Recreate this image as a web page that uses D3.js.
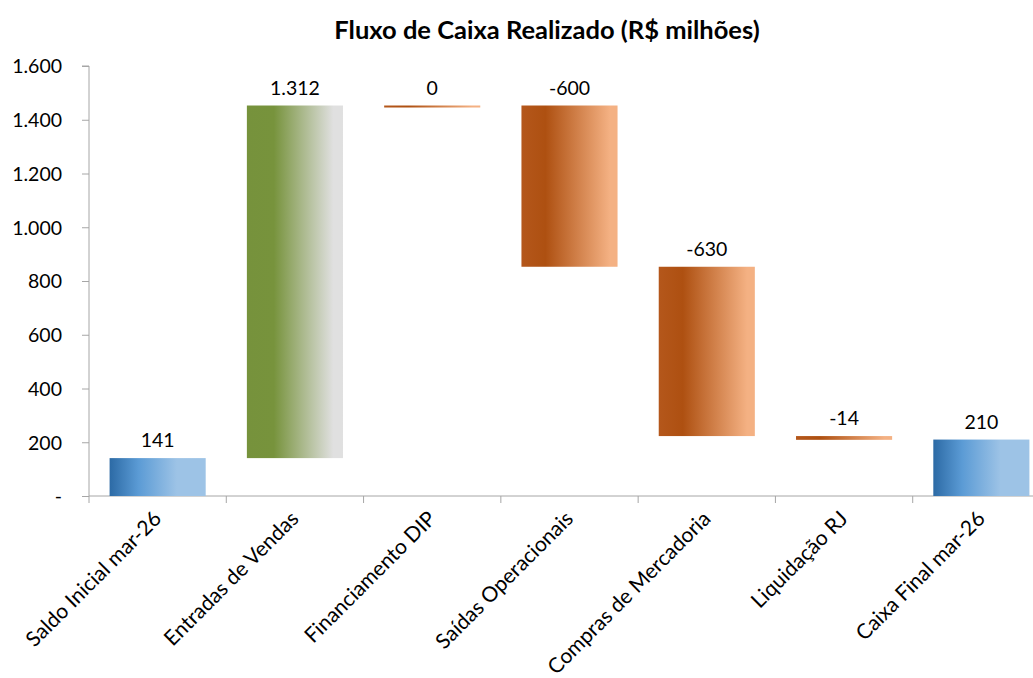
<!DOCTYPE html>
<html>
<head>
<meta charset="utf-8">
<script src="https://cdn.jsdelivr.net/npm/d3@7"></script>
<style>
	body { margin: 0; background: #fff; }
	svg text { font-family: Lato, "Open Sans", sans-serif; fill: #000; }
</style>
</head>
<body>
<div id="chart"></div>
<script>
// waterfall - fluxo de caixa
const categories = ['Saldo Inicial mar-26', 'Entradas de Vendas', 'Financiamento DIP', 'Saídas Operacionais', 'Compras de Mercadoria', 'Liquidação RJ', 'Caixa Final mar-26'];
const values = [141, 1312, 0, -600, -630, -14, 210];
const kinds = ['total', 'up', 'down', 'down', 'down', 'down', 'total'];
const yTicks = [0, 200, 400, 600, 800, 1000, 1200, 1400, 1600];
const title = 'Fluxo de Caixa Realizado (R$ milhões)';

const W = 1033, H = 678;
const m = {top: 66, left: 89, bottom: 182, right: -17};

const loc = d3.formatLocale({decimal: ',', thousands: '.', grouping: [3], currency: ['R$', ''], minus: '-'});
const fmt = loc.format(',.0f');

// running totals
let cum = 0;
const rows = categories.map((c, i) => {
	let y0, y1;
	if (kinds[i] == 'total') { y0 = 0; y1 = values[i]; cum = values[i]; }
	else { y0 = cum; y1 = cum + values[i]; cum = y1; }
	return {cat: c, value: values[i], kind: kinds[i], lo: Math.min(y0, y1), hi: Math.max(y0, y1)};
});

const svg = d3.select('#chart').append('svg')
	.attr('width', W)
	.attr('height', H);

const defs = svg.append('defs');
function grad(id, stops) {
	const g = defs.append('linearGradient').attr('id', id)
		.attr('x1', '0%').attr('x2', '100%').attr('y1', '0%').attr('y2', '0%');
	stops.forEach(s => g.append('stop').attr('offset', s[0]).attr('stop-color', s[1]));
}
grad('gTotal', [['0%', '#2c6aa5'], ['30%', '#5b9bd5'], ['70%', '#9dc3e6'], ['100%', '#9dc3e6']]);
grad('gUp', [['0%', '#76923c'], ['28%', '#77933c'], ['90%', '#e0e0e0'], ['100%', '#e0e0e0']]);
grad('gDown', [['0%', '#b4571b'], ['25%', '#ae5011'], ['92%', '#f4b183'], ['100%', '#f4b183']]);
const fills = {total: 'url(#gTotal)', up: 'url(#gUp)', down: 'url(#gDown)'};

const x = d3.scaleBand()
	.domain(categories)
	.range([m.left, W - m.right])
	.paddingInner(0.3)
	.paddingOuter(0.15);

const y = d3.scaleLinear()
	.domain([0, 1600])
	.range([H - m.bottom, m.top]);

// title
svg.append('text')
	.attr('x', 547)
	.attr('y', 39)
	.attr('text-anchor', 'middle')
	.style('font-size', '25.5px')
	.style('font-weight', 'bold')
	.text(title);

// y axis
const yAxis = svg.append('g')
	.attr('class', 'y axis')
	.attr('transform', 'translate(' + m.left + ',0)')
	.call(d3.axisLeft(y)
		.tickValues(yTicks)
		.tickSize(7)
		.tickPadding(20)
		.tickFormat(d => d == 0 ? '-' : fmt(d)));
yAxis.select('.domain').attr('stroke', '#a6a6a6').attr('d', 'M-7,' + y(1600) + 'H0V' + y(0));
yAxis.selectAll('.tick line').attr('stroke', '#a6a6a6');
yAxis.selectAll('text').style('font-size', '19.5px').attr('dy', '0.35em');

// x axis
const bounds = categories.map(c => x(c) - x.step() * x.paddingInner() / 2);
bounds[0] = m.left;
const xAxis = svg.append('g').attr('class', 'x axis');
xAxis.append('line')
	.attr('x1', m.left).attr('x2', W)
	.attr('y1', y(0)).attr('y2', y(0))
	.attr('stroke', '#a6a6a6');
xAxis.selectAll('.xtick').data(bounds).enter().append('line')
	.attr('class', 'xtick')
	.attr('x1', d => d).attr('x2', d => d)
	.attr('y1', y(0)).attr('y2', y(0) + 7)
	.attr('stroke', '#a6a6a6');
xAxis.selectAll('.xlabel').data(categories).enter().append('text')
	.attr('class', 'xlabel')
	.attr('text-anchor', 'end')
	.attr('transform', d => 'translate(' + (x(d) + x.bandwidth() / 2 + 5) + ',' + (y(0) + 24) + ') rotate(-45)')
	.style('font-size', '21px')
	.text(d => d);

// bars
svg.selectAll('.bar').data(rows).enter().append('rect')
	.attr('class', 'bar')
	.attr('x', d => x(d.cat))
	.attr('width', x.bandwidth())
	.attr('y', d => y(d.hi))
	.attr('height', d => Math.max(2, y(d.lo) - y(d.hi)))
	.attr('fill', d => fills[d.kind]);

// data labels
svg.selectAll('.lbl').data(rows).enter().append('text')
	.attr('class', 'lbl')
	.attr('x', d => x(d.cat) + x.bandwidth() / 2)
	.attr('y', d => y(d.hi) - 11)
	.attr('text-anchor', 'middle')
	.style('font-size', '19.5px')
	.text(d => fmt(d.value));
</script>
</body>
</html>
